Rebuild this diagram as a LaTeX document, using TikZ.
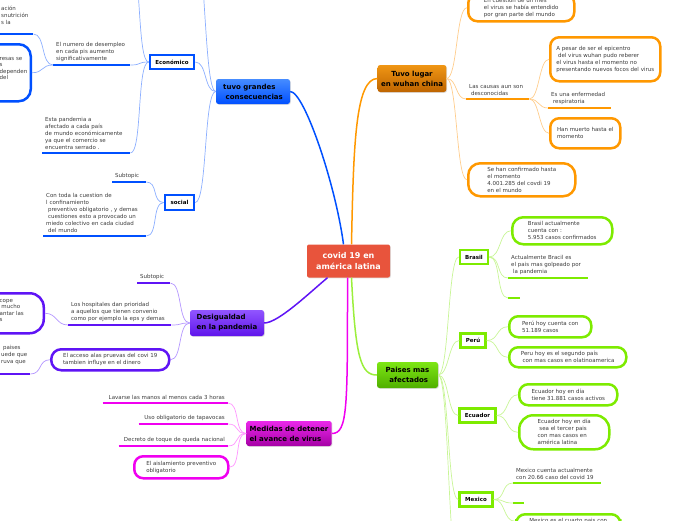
\documentclass[tikz,border=0pt]{standalone}
\usepackage{fontspec}
\setmainfont{DejaVu Sans}
\usetikzlibrary{shadows}
\definecolor{textgray}{RGB}{60,60,60}
\definecolor{maproot}{RGB}{232,84,60}
\definecolor{mapblue}{RGB}{0,80,255}
\definecolor{mapbluetop}{RGB}{70,140,255}
\definecolor{mapbluelight}{RGB}{140,175,255}
\definecolor{maporange}{RGB}{255,152,0}
\definecolor{maporangetop}{RGB}{240,150,20}
\definecolor{maporangebot}{RGB}{190,100,0}
\definecolor{maporangelight}{RGB}{255,205,140}
\definecolor{mapgreen}{RGB}{125,235,0}
\definecolor{mapgreentop}{RGB}{125,230,20}
\definecolor{mapgreenbot}{RGB}{80,175,0}
\definecolor{mapgreenlight}{RGB}{200,245,150}
\definecolor{mappurple}{RGB}{95,20,245}
\definecolor{mappurpletop}{RGB}{145,85,255}
\definecolor{mappurplebot}{RGB}{95,20,235}
\definecolor{mappurplelight}{RGB}{180,150,255}
\definecolor{mapmagenta}{RGB}{240,0,240}
\definecolor{mapmagentatop}{RGB}{235,40,235}
\definecolor{mapmagentabot}{RGB}{165,0,165}
\definecolor{mapmagentalight}{RGB}{255,150,255}

\begin{document}
\begin{tikzpicture}[
    x=1pt, y=-1pt,
    every node/.style={font=\fontsize{5.5}{7}\selectfont, text=textgray},
    rootbox/.style={fill=maproot, rounded corners=2pt, text=white, align=center,
        font=\fontsize{8}{11}\selectfont\bfseries, minimum width=83pt, minimum height=33pt,
        drop shadow={shadow xshift=.8pt, shadow yshift=-.8pt, opacity=.25}},
    mainbox/.style 2 args={top color=#1, bottom color=#2, rounded corners=2.5pt, text=black,
        font=\fontsize{7}{10}\selectfont\bfseries,
        drop shadow={shadow xshift=.8pt, shadow yshift=-.8pt, opacity=.25}},
    catbox/.style={draw=#1, fill=white, line width=2.5pt, text=black, inner sep=0pt,
        font=\fontsize{5.5}{7}\selectfont\bfseries},
    note/.style={draw=#1, fill=white, line width=2.5pt, rounded corners=9pt, align=left,
        anchor=north west, inner sep=0pt},
    topic/.style={anchor=south west, align=left, inner xsep=3pt, inner ysep=3.5pt,
        append after command={(\tikzlastnode.south west) edge[draw=#1, line width=2.5pt] (\tikzlastnode.south east)}},
    rtopic/.style={topic=#1, anchor=south east, align=right},
    frag/.style={anchor=north west, align=left, inner sep=0pt, font=\fontsize{5.5}{6.4}\selectfont},
    link/.style={draw=#1, line width=.7pt},
    trunk/.style={draw=#1, line width=1.5pt}
]
\useasboundingbox (0,0) rectangle (696,520);
\clip (0,0) rectangle (696,520);

% centre and main topics
\node[rootbox] (root) at (348.5,261) {covid 19 en\\américa latina};
\node[mainbox={mapbluetop}{mapblue}, minimum width=74pt, minimum height=25pt, align=left] (tuvo) at (253,91.5) {tuvo grandes\\~consecuencias};
\node[mainbox={maporangetop}{maporangebot}, minimum width=68pt, minimum height=27pt, align=center] (wuhan) at (412,78.5) {Tuvo lugar\\en wuhan china};
\node[mainbox={mappurpletop}{mappurplebot}, minimum width=74pt, minimum height=26pt, align=left] (desig) at (227,323) {Desigualdad\\en la pandemia};
\node[mainbox={mapmagentatop}{mapmagentabot}, minimum width=82pt, minimum height=25pt, align=left] (medidas) at (289,433.5) {Medidas de detener\\el avance de virus};
\node[mainbox={mapgreentop}{mapgreenbot}, minimum width=61pt, minimum height=26pt, align=center] (paises) at (407.5,375) {Paises mas\\~afectados};

% category boxes
\node[catbox=mapblue, minimum width=44pt, minimum height=14pt] (econ) at (172,62) {Económico};
\node[catbox=mapblue, minimum width=29pt, minimum height=15pt] (social) at (179.5,202.5) {social};
\node[catbox=mapgreen, minimum width=28pt, minimum height=14pt] (brasil) at (474,257) {Brasil};
\node[catbox=mapgreen, minimum width=25pt, minimum height=14pt] (peru) at (473,340.5) {Perú};
\node[catbox=mapgreen, minimum width=36pt, minimum height=14pt] (ecuador) at (477.5,415.5) {Ecuador};
\node[catbox=mapgreen, minimum width=33pt, minimum height=14pt] (mexico) at (476,499.5) {Mexico};

% blue branch
\node[topic=mapblue, text width=71pt] (desem) at (53,65) {El numero de desempleo\\en cada pis aumento\\significativamente};
\node[topic=mapblue, text width=82pt] (pand) at (42,153) {Esta pandemia a\\afectado a cada país\\de mundo económicamente\\ya que el comercio se\\encuentra serrado .};
\node[topic=mapblue, text width=29pt, inner ysep=9pt] (topleft) at (-2,34) {ación\\snutrición\\s la};
\node[note=mapblue, minimum width=80pt, minimum height=57pt, anchor=north east, rounded corners=12pt] (leftbox) at (32,43) {};
\node[frag] (lefttext) at (-0.5,57) {resas se\\s\\dependen\\del};
\node[topic=mapblue, text width=28pt] (sub1) at (112,182) {Subtopic};
\node[topic=mapblue, text width=97pt] (confin) at (43,236) {Con toda la cuestion de\\l confinamiento\\~preventivo obligatorio , y demas\\~cuestiones esto a provocado un\\miedo colectivo en cada ciudad\\~del mundo};
\coordinate (tuvotop) at (194,-60);
\coordinate (econtop) at (130,-40);

% orange branch
\node[note=maporange, minimum width=106pt, minimum height=27pt] (firstmes) at (467,-7) {En cuestion de un mes\\el virus se había entendido\\por gran parte del mundo};
\node[topic=maporange, text width=57pt] (causas) at (466,99) {Las causas aun son\\~desconocidas};
\node[note=maporange, minimum width=110pt, minimum height=44pt] (epic) at (549,36) {A pesar de ser el epicentro\\~del virus wuhan pudo reberer\\el virus hasta el momento no\\presentando nuevos focos del virus};
\node[topic=maporange, text width=57pt] (respir) at (548,108) {Es una enfermedad\\~respiratoria};
\node[note=maporange, minimum width=70pt, minimum height=30pt] (muerto) at (549,117) {Han muerto hasta el\\momento};
\node[note=maporange, minimum width=107pt, minimum height=33pt, rounded corners=12pt] (confirm) at (467,162) {Se han confirmado hasta\\el momento\\4.001.285 del covdi 19\\en el mundo};

% green branch
\node[note=mapgreen, minimum width=100pt, minimum height=27pt, rounded corners=11pt] (brasil1) at (511,216) {Brasil actualmente\\cuenta con :\\5.953 casos confirmados};
\node[topic=mapgreen, text width=74pt] (brasil2) at (508,278) {Actualmente Bracil es\\el pais mas golpeado por\\~la pandemia};
\node[topic=mapgreen, text width=6pt] (brasil3) at (508,298) {};
\node[note=mapgreen, minimum width=82pt, minimum height=21pt] (peru1) at (508,315) {Perú hoy cuenta con\\51.189 casos};
\node[note=mapgreen, minimum width=117pt, minimum height=20pt] (peru2) at (508,346) {Peru hoy es el segundo país\\~con mas casos en olatinoamerica};
\node[note=mapgreen, minimum width=98pt, minimum height=21pt] (ecuador1) at (518,383) {Ecuador hoy en día\\tiene 31.881 casos activos};
\node[note=mapgreen, minimum width=90pt, minimum height=34pt, rounded corners=14pt] (ecuador2) at (518,414) {Ecuador hoy en día\\~sea el tercer pais\\con mas casos en\\américa latina};
\node[topic=mapgreen, text width=82pt] (mexico1) at (513,483) {Mexico cuenta actualmente\\con 20.66 caso del covid 19};
\node[topic=mapgreen, text width=5pt] (mexico2) at (513,503) {};
\node[note=mapgreen, minimum width=104pt, minimum height=14pt] (mexico3) at (515,513) {Mexico es el cuarto pais con};
\coordinate (paisesbot) at (459,575);

% purple branch
\node[topic=mappurple, text width=27pt] (sub2) at (137,283) {Subtopic};
\node[topic=mappurple, text width=97pt] (hosp) at (68,325) {Los hospitales dan prioridad\\a aquellos que tienen convenio\\como por ejemplo la eps y demas};
\node[note=mappurple, minimum width=118pt, minimum height=21pt, rounded corners=10pt] (acceso) at (50,348) {El acceso alas pruevas del covi 19\\tambien influye en el dinero};
\node[note=mappurple, minimum width=90pt, minimum height=40pt, anchor=north east, rounded corners=14pt] (leftbox2) at (45,292) {};
\node[frag] (lefttext2) at (-0.5,299) {cope\\~mucho\\antar las\\s};
\node[topic=mappurple, text width=26pt, inner ysep=9pt] (leftline) at (-2,374) {~paises\\uede que\\ruva que};

% magenta branch
\node[rtopic=mapmagenta, text width=119pt] (lavarse) at (228,403) {Lavarse las manos al menos cada 3 horas};
\node[rtopic=mapmagenta, text width=83pt] (uso) at (228,424) {Uso obligatorio de tapavocas};
\node[rtopic=mapmagenta, text width=103pt] (decreto) at (228,446) {Decreto de toque de queda nacional};
\node[note=mapmagenta, minimum width=94pt, minimum height=22pt] (aislam) at (133,455) {El aislamiento preventivo\\obligatorio};

% trunks from the centre
\draw[trunk=mapblue] ([xshift=-5pt]root.north) .. controls +(-8,-60) and +(14,0) .. (tuvo.east);
\draw[trunk=maporange] ([xshift=3pt]root.north) .. controls +(2,-100) and +(-22,0) .. (wuhan.west);
\draw[trunk=mappurple] ([xshift=-21pt]root.south) .. controls +(-18,15) and +(14,0) .. (desig.east);
\draw[trunk=mapmagenta] ([xshift=-1pt]root.south) .. controls +(0,130) and +(16,0) .. (medidas.east);
\draw[trunk=mapgreenlight!40!mapgreen] ([xshift=3pt]root.south) .. controls +(4,80) and +(-16,0) .. (paises.west);

% blue links
\draw[link=mapbluelight] (tuvo.west) .. controls +(-12,0) and +(12,0) .. (econ.east);
\draw[link=mapbluelight] (tuvo.west) .. controls +(-12,0) and +(12,0) .. (social.east);
\draw[link=mapbluelight] (tuvo.west) .. controls +(-12,0) and +(12,0) .. (tuvotop);
\draw[link=mapbluelight] (econ.west) .. controls +(-12,0) and +(12,0) .. (desem.south east);
\draw[link=mapbluelight] (econ.west) .. controls +(-12,0) and +(12,0) .. (pand.south east);
\draw[link=mapbluelight] (econ.west) .. controls +(-12,0) and +(12,0) .. (econtop);
\draw[link=mapbluelight] (desem.south west) .. controls +(-12,0) and +(12,0) .. (topleft.south east);
\draw[link=mapbluelight] (desem.south west) .. controls +(-12,0) and +(12,0) .. (leftbox.east);
\draw[link=mapbluelight] (social.west) .. controls +(-12,0) and +(12,0) .. (sub1.south east);
\draw[link=mapbluelight] (social.west) .. controls +(-12,0) and +(12,0) .. (confin.south east);

% orange links
\draw[link=maporangelight] (wuhan.east) .. controls +(11,0) and +(-11,0) .. (firstmes.west);
\draw[link=maporangelight] (wuhan.east) .. controls +(11,0) and +(-11,0) .. (causas.south west);
\draw[link=maporangelight] (wuhan.east) .. controls +(11,0) and +(-11,0) .. (confirm.west);
\draw[link=maporangelight] (causas.south east) .. controls +(10,0) and +(-10,0) .. (epic.west);
\draw[link=maporangelight] (causas.south east) .. controls +(10,0) and +(-10,0) .. (respir.south west);
\draw[link=maporangelight] (causas.south east) .. controls +(10,0) and +(-10,0) .. (muerto.west);

% green links
\draw[link=mapgreenlight] (paises.east) .. controls +(11,0) and +(-11,0) .. (brasil.west);
\draw[link=mapgreenlight] (paises.east) .. controls +(11,0) and +(-11,0) .. (peru.west);
\draw[link=mapgreenlight] (paises.east) .. controls +(11,0) and +(-11,0) .. (ecuador.west);
\draw[link=mapgreenlight] (paises.east) .. controls +(11,0) and +(-11,0) .. (mexico.west);
\draw[link=mapgreenlight] (paises.east) .. controls +(11,0) and +(-11,0) .. (paisesbot);
\draw[link=mapgreenlight] (brasil.east) .. controls +(12,0) and +(-12,0) .. (brasil1.west);
\draw[link=mapgreenlight] (brasil.east) .. controls +(12,0) and +(-12,0) .. (brasil2.south west);
\draw[link=mapgreenlight] (brasil.east) .. controls +(12,0) and +(-12,0) .. (brasil3.south west);
\draw[link=mapgreenlight] (peru.east) .. controls +(12,0) and +(-12,0) .. (peru1.west);
\draw[link=mapgreenlight] (peru.east) .. controls +(12,0) and +(-12,0) .. (peru2.west);
\draw[link=mapgreenlight] (ecuador.east) .. controls +(12,0) and +(-12,0) .. (ecuador1.west);
\draw[link=mapgreenlight] (ecuador.east) .. controls +(12,0) and +(-12,0) .. (ecuador2.west);
\draw[link=mapgreenlight] (mexico.east) .. controls +(12,0) and +(-12,0) .. (mexico1.south west);
\draw[link=mapgreenlight] (mexico.east) .. controls +(12,0) and +(-12,0) .. (mexico2.south west);
\draw[link=mapgreenlight] (mexico.east) .. controls +(12,0) and +(-12,0) .. (mexico3.west);

% purple links
\draw[link=mappurplelight] (desig.west) .. controls +(-12,0) and +(12,0) .. (sub2.south east);
\draw[link=mappurplelight] (desig.west) .. controls +(-12,0) and +(12,0) .. (hosp.south east);
\draw[link=mappurplelight] (desig.west) .. controls +(-12,0) and +(12,0) .. (acceso.east);
\draw[link=mappurplelight] (hosp.south west) .. controls +(-12,0) and +(12,0) .. (leftbox2.east);
\draw[link=mappurplelight] (acceso.west) .. controls +(-12,0) and +(12,0) .. (leftline.south east);

% magenta links
\draw[link=mapmagentalight] (medidas.west) .. controls +(-12,0) and +(12,0) .. (lavarse.south east);
\draw[link=mapmagentalight] (medidas.west) .. controls +(-12,0) and +(12,0) .. (uso.south east);
\draw[link=mapmagentalight] (medidas.west) .. controls +(-12,0) and +(12,0) .. (decreto.south east);
\draw[link=mapmagentalight] (medidas.west) .. controls +(-12,0) and +(12,0) .. (aislam.east);
\end{tikzpicture}
\end{document}
